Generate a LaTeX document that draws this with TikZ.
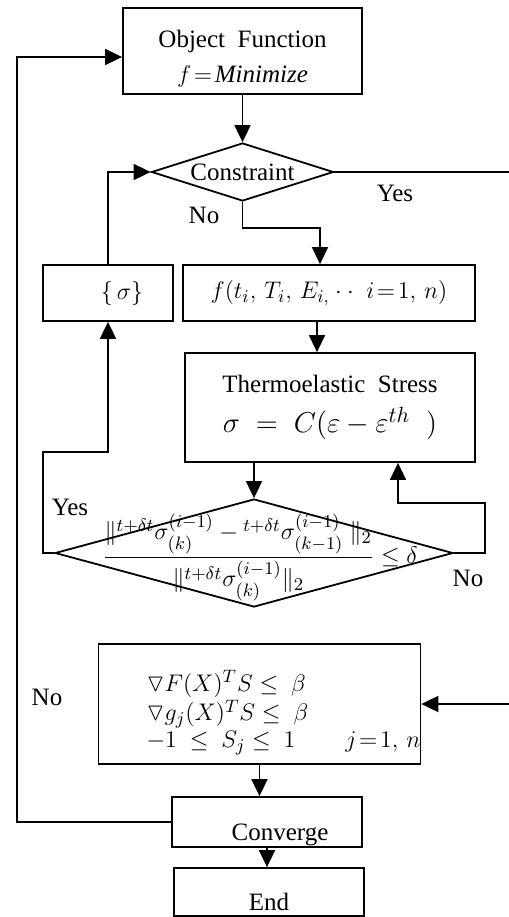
\documentclass[tikz,border=0pt]{standalone}
\usepackage{amsmath,amssymb}
\usepackage{fontspec}
\setmainfont{Liberation Serif}
\usetikzlibrary{arrows.meta,shapes.geometric,calc}

\begin{document}
\begin{tikzpicture}[x=0.5pt, y=-0.5pt, line width=0.9pt,
	every node/.style={font=\fontsize{12.5}{15}\selectfont},
	>={Triangle[length=8.5pt,width=8pt]},
	block/.style={draw, rectangle, inner sep=0pt},
	decide/.style={draw, diamond, inner sep=0pt, aspect=3},
	lab/.style={inner sep=0pt}]
	\useasboundingbox (0,0) rectangle (509,917);
	% boxes
	\node[block, minimum width=119.5pt, minimum height=43pt] (obj) at (242.5,51) {\raisebox{-6.6pt}[0pt][0pt]{\renewcommand{\arraystretch}{1.17}\begin{tabular}{@{}c@{}}Object\ \ Function\\ $f\!=\!\mathit{Minimize}$\end{tabular}}};
	\node[decide, minimum width=91pt, minimum height=29pt] (con) at (242.5,172) {Constraint};
	\node[block, minimum width=65pt, minimum height=28pt] (sig) at (108,293) {\hspace*{14pt}$\{\,\sigma\}$};
	\node[block, minimum width=146pt, minimum height=28pt] (fbox) at (329,293) {$f(t_i,\, T_i,\, E_{i,}\cdot\cdot\ \ i\!=\!1,\,n)$};
	\node[block, minimum width=145pt, minimum height=54.5pt, align=center] (thermo) at (330,407.5) {Thermoelastic\ \ Stress\\[5pt] {\fontsize{15}{18}\selectfont $\sigma\;=\;C(\varepsilon-\varepsilon^{th}\;\;)$}};
	\node[decide, minimum width=199pt, minimum height=54pt] (chk) at (254,553) {\smash{\makebox[0pt]{\hspace*{6pt}\raisebox{-5pt}{$\dfrac{\|{}^{t+\delta t}\sigma^{(i-1)}_{(k)}-{}^{t+\delta t}\sigma^{(i-1)}_{(k-1)}\ \|_2}{\|{}^{t+\delta t}\sigma^{(i-1)}_{(k)}\|_2}\le\delta$}}}};
	\node[block, minimum width=158.5pt, minimum height=60pt] (grad) at (259.5,704) {\raisebox{-7.6pt}[0pt][0pt]{\renewcommand{\arraystretch}{0.9}$\begin{array}{@{\hspace{24pt}}l@{}}
		\triangledown F(X)^T S\le\ \beta\\
		\triangledown g_j(X)^T S\le\ \beta\\
		-1\ \le\ S_j\le\ 1\qquad j\!=\!1,\,n
	\end{array}$}};
	\node[block, minimum width=95pt, minimum height=25pt] (conv) at (267,822) {\raisebox{-9pt}[0pt][0pt]{\hspace*{13pt}Converge}};
	\node[block, minimum width=95pt, minimum height=24pt] (fin) at (269,892) {\raisebox{-9pt}[0pt][0pt]{End}};
	% labels
	\node[lab] (yes1) at (395,193) {Yes};
	\node[lab] (no1) at (204,215) {No};
	\node[lab] (yes2) at (70,507) {Yes};
	\node[lab] (no2) at (468,578) {No};
	\node[lab] (no3) at (47,697) {No};
	% bends
	\coordinate (rt) at (513,0);
	\coordinate (nb) at (320,228);
	\coordinate (ys) at (43,452);
	\coordinate (ns) at (485,503);
	\coordinate (nt) at (398,503);
	\coordinate (lft) at (17,57);
	\coordinate (ft) at ($(fbox.south)+(-12,0)$);
	% connectors
	\draw[->] (obj) -- (con);
	\draw[->] (con.east) -- (con.east -| rt) |- (grad.east);
	\draw[->] (con.south) |- (nb) -- (nb |- fbox.north);
	\draw[->] (sig.north) |- (con.west);
	\draw[->] (ft) -- (ft |- thermo.north);
	\draw[->] (chk.north |- thermo.south) -- (chk.north);
	\draw[->] (chk.west) -| (ys) -| (sig.south);
	\draw[->] (chk.east) -| (ns) -- (nt) -- (nt |- thermo.south);
	\draw[->] (grad.south) -- (grad.south |- conv.north);
	\draw[->] (conv.west) -| (lft) -- (lft -| obj.west);
	\draw[->] (conv.south) -- (conv.south |- fin.north);
\end{tikzpicture}
\end{document}
